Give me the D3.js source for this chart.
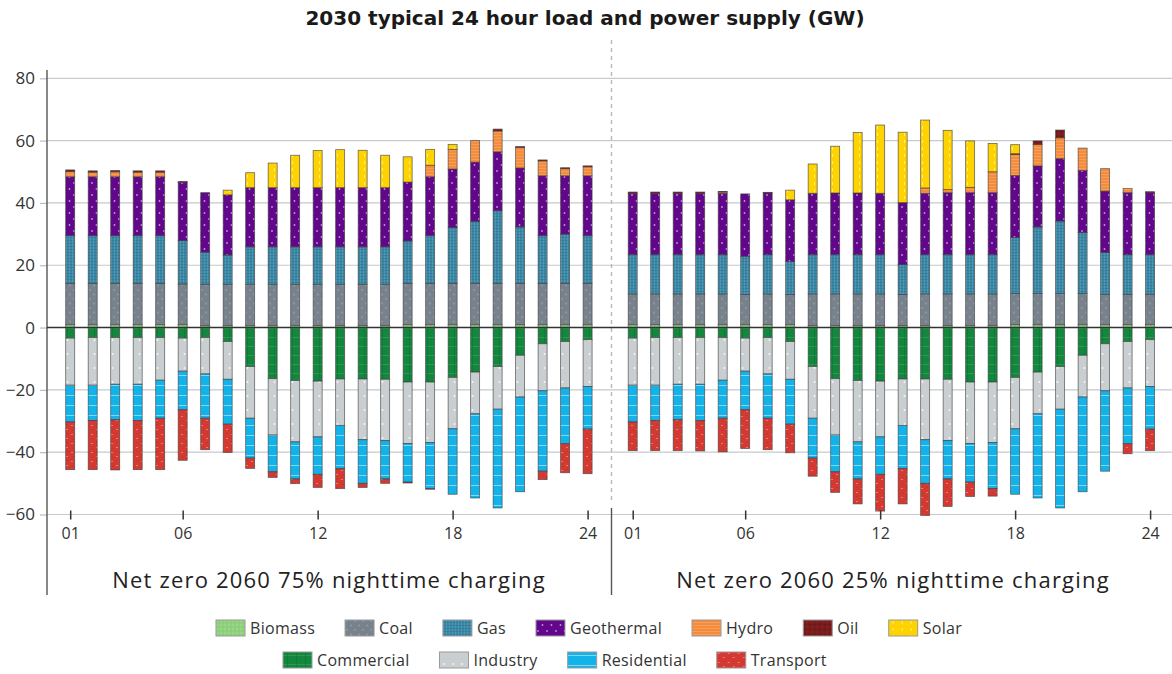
<!DOCTYPE html>
<html>
<head>
<meta charset="utf-8">
<script src="https://cdn.jsdelivr.net/npm/d3@7"></script>
<style>
  html, body { margin: 0; padding: 0; background: #fff; }
  svg { display: block; font-family: "Open Sans", "DejaVu Sans", sans-serif; }
</style>
</head>
<body>
<svg id="chart" width="1172" height="674"></svg>
<script>
// ---- Data (GW). Each series holds [75% nighttime charging, 25% nighttime charging] ----
const scenarios = ["Net zero 2060 75% nighttime charging", "Net zero 2060 25% nighttime charging"];
const hours = d3.range(1, 25);
const hourTicks = [1, 6, 12, 18, 24];
const hourTickLabels = ["01", "06", "12", "18", "24"];
const yTicks = [-60, -40, -20, 0, 20, 40, 60, 80];

// Supply (positive)
const biomass = [
  [0.9,0.9,0.9,0.9,0.9,0.9,0.6,0.6,0.6,0.6,0.6,0.6,0.6,0.6,0.6,0.9,0.9,0.9,0.9,0.9,0.9,0.9,0.9,0.9],
  [0.9,0.9,0.9,0.9,0.9,0.9,0.9,0.9,0.6,0.6,0.6,0.6,0.6,0.6,0.6,0.6,0.6,0.9,0.9,0.9,0.9,0.9,0.9,0.9]
];
const coal = [
  [13.3,13.3,13.3,13.3,13.3,13.1,13.3,13.3,13.3,13.3,13.3,13.3,13.3,13.3,13.3,13.3,13.3,13.3,13.3,13.3,13.3,13.3,13.3,13.3],
  [9.9,9.9,9.9,9.9,9.9,9.7,9.9,9.7,10.2,10.2,10.2,10.2,10.0,10.2,10.2,10.2,10.2,10.0,10.0,10.0,10.0,9.8,9.8,9.8]
];
const gas = [
  [15.3,15.3,15.3,15.3,15.3,13.9,10.3,9.4,12.0,12.0,12.0,12.0,12.0,12.0,12.0,13.6,15.3,17.9,19.9,23.3,18.1,15.3,15.8,15.3],
  [12.6,12.6,12.6,12.6,12.6,12.3,12.6,10.6,12.6,12.6,12.6,12.6,9.6,12.6,12.6,12.6,12.6,18.0,21.4,23.3,19.6,13.4,12.7,12.7]
];
const geothermal = [
  [18.9,18.9,18.9,18.9,18.9,18.7,19.1,19.3,19.0,19.0,19.0,19.0,19.0,19.0,19.0,18.9,18.9,18.8,19.0,18.9,18.9,19.2,18.7,19.2],
  [19.7,19.7,19.7,19.7,19.7,20.0,19.8,19.8,19.7,19.8,19.8,19.7,19.9,19.7,19.9,19.9,19.9,19.9,19.6,20.0,19.9,19.7,19.9,19.9]
];
const hydro = [
  [1.7,1.5,1.6,1.5,1.5,0,0,0,0,0,0,0,0,0,0,0,3.7,6.3,6.9,6.7,6.6,4.8,2.3,2.9],
  [0,0,0,0,0.4,0,0,0,0,0,0,0,0,1.7,1.0,1.7,6.7,6.8,6.9,6.7,7.2,7.2,1.3,0]
];
const oil = [
  [0.5,0.4,0.4,0.4,0.4,0.3,0,0,0,0,0,0,0,0,0,0,0,0,0,0.6,0.3,0.3,0.3,0.3],
  [0.4,0.4,0.4,0.4,0.2,0,0.2,0,0,0,0,0,0,0,0,0,0,0.2,1.1,2.5,0,0,0,0.3]
];
const solar = [
  [0,0,0,0,0,0,0,1.5,4.8,7.9,10.4,11.9,12.2,12.0,10.4,8.1,5.1,1.6,0,0,0,0,0,0],
  [0,0,0,0,0,0,0,3.1,9.4,15.0,19.4,21.9,22.6,21.8,19.0,14.9,9.1,2.9,0,0,0,0,0,0]
];

// Load (negative)
const commercial = [
  [-3.4,-3.2,-3.2,-3.2,-3.2,-3.4,-3.2,-4.5,-12.5,-16.4,-17.0,-17.2,-16.5,-16.5,-16.6,-17.5,-17.5,-16.0,-14.3,-12.5,-8.9,-5.2,-4.5,-3.9],
  [-3.4,-3.2,-3.2,-3.2,-3.2,-3.4,-3.2,-4.5,-12.5,-16.4,-17.0,-17.2,-16.5,-16.5,-16.6,-17.5,-17.5,-16.0,-14.3,-12.5,-8.9,-5.2,-4.5,-3.9]
];
const industry = [
  [-15.1,-15.3,-15.0,-15.0,-13.7,-10.6,-11.7,-12.1,-16.6,-18.1,-19.7,-17.9,-14.9,-19.5,-19.7,-19.7,-19.4,-16.5,-13.4,-13.7,-13.4,-15.1,-14.9,-15.0],
  [-15.1,-15.3,-15.0,-15.0,-13.7,-10.6,-11.7,-12.1,-16.6,-18.1,-19.7,-17.9,-14.9,-19.5,-19.7,-19.7,-19.4,-16.5,-13.4,-13.7,-13.4,-15.1,-14.9,-15.0]
];
const residential = [
  [-11.8,-11.3,-11.4,-11.6,-12.2,-12.4,-14.2,-14.4,-12.8,-11.8,-11.9,-12.0,-13.9,-14.0,-12.3,-12.4,-14.8,-21.0,-27.0,-31.7,-30.4,-25.8,-17.9,-13.7],
  [-11.8,-11.3,-11.4,-11.6,-12.2,-12.4,-14.2,-14.4,-12.8,-11.8,-11.9,-12.0,-13.9,-14.0,-12.3,-12.4,-14.8,-21.0,-27.0,-31.7,-30.4,-25.8,-17.9,-13.7]
];
const transport = [
  [-15.3,-15.8,-16.1,-15.8,-16.5,-16.2,-10.1,-9.1,-3.3,-1.8,-1.5,-4.2,-6.4,-1.3,-1.4,-0.3,-0.2,0,0,0,0,-2.7,-9.3,-14.3],
  [-9.2,-9.7,-9.9,-9.8,-10.8,-12.4,-10.1,-9.2,-5.8,-6.6,-8.0,-11.8,-11.3,-10.3,-8.8,-4.6,-2.4,0,0,0,0,0,-3.2,-6.9]
];

const seriesNames = ["Biomass","Coal","Gas","Geothermal","Hydro","Oil","Solar","Commercial","Industry","Residential","Transport"];
const seriesValues = [biomass, coal, gas, geothermal, hydro, oil, solar, commercial, industry, residential, transport];
const legendRows = [
  ["Biomass","Coal","Gas","Geothermal","Hydro","Oil","Solar"],
  ["Commercial","Industry","Residential","Transport"]
];

// ---- Layout ----
const svg = d3.select("#chart");
const W = 1172;
const axisX = 47;
const panelRanges = [[70.2, 587.6], [632.7, 1150.1]];
const barW = 9;
const y = d3.scaleLinear().domain([-60, 80]).range([514.5, 78.3]);

// ---- Fill textures ----
const defs = svg.append("defs");
function makePattern(id, w, h, base, draw) {
  const p = defs.append("pattern").attr("id", id)
    .attr("patternUnits", "userSpaceOnUse").attr("width", w).attr("height", h);
  p.append("rect").attr("width", w).attr("height", h).attr("fill", base);
  draw(p);
}
const dot = (p, cx, cy, r, c, o) => p.append("circle").attr("cx", cx).attr("cy", cy).attr("r", r).attr("fill", c).attr("opacity", o);
const box = (p, x0, y0, w, h, c, o) => p.append("rect").attr("x", x0).attr("y", y0).attr("width", w).attr("height", h).attr("fill", c).attr("opacity", o);

makePattern("p-Biomass", 4, 4, "#8fd07c", p => { dot(p, 1, 1, 0.7, "#b7e6a6", 0.8); dot(p, 3, 3, 0.6, "#74bd62", 0.6); });
makePattern("p-Coal", 8, 9, "#78828c", p => { dot(p, 2, 2, 0.9, "#98a1aa", 0.8); dot(p, 6, 6.5, 0.9, "#98a1aa", 0.8); });
makePattern("p-Gas", 3, 3, "#3a87a5", p => { box(p, 0, 0, 1, 3, "#64a8c3", 0.55); box(p, 0, 0, 3, 1, "#2d7390", 0.5); });
makePattern("p-Geothermal", 9, 12, "#62078b", p => { dot(p, 2, 3, 0.9, "#e6d2f0", 0.7); dot(p, 6.5, 9, 0.9, "#e6d2f0", 0.7); });
makePattern("p-Hydro", 4, 3, "#f58b3c", p => { box(p, 0, 0, 4, 1, "#f9aa6c", 0.6); });
makePattern("p-Oil", 5, 5, "#7b1c1c", p => { dot(p, 1.5, 1.5, 0.8, "#5a1010", 0.8); dot(p, 4, 4, 0.7, "#983030", 0.7); });
makePattern("p-Solar", 9, 7, "#ffd300", p => { box(p, 4, 0, 1, 3, "#fff3a6", 0.8); });
makePattern("p-Commercial", 9, 9, "#12873d", p => { box(p, 0, 4, 9, 1, "#3fa363", 0.6); box(p, 4, 0, 1, 9, "#0c6f31", 0.5); });
makePattern("p-Industry", 9, 14, "#c9ced1", p => { dot(p, 4.5, 4, 1.0, "#ffffff", 0.8); });
makePattern("p-Residential", 9, 10, "#13b3ea", p => { box(p, 0, 5, 9, 1, "#9fe0f7", 0.8); });
makePattern("p-Transport", 10, 9, "#d43a31", p => {
  box(p, 1, 2, 2, 1, "#ef8a82", 0.8); box(p, 6, 6, 2, 1, "#ef8a82", 0.8);
  dot(p, 7, 1.5, 0.6, "#a52a22", 0.8); dot(p, 3, 7, 0.6, "#a52a22", 0.8);
});

// ---- Title ----
svg.append("text")
  .attr("x", 585).attr("y", 25)
  .attr("text-anchor", "middle")
  .attr("font-family", "\"DejaVu Sans\", sans-serif")
  .attr("font-size", 20).attr("font-weight", 700).attr("fill", "#1a1a1a")
  .text("2030 typical 24 hour load and power supply (GW)");

// ---- Grid and y axis ----
const grid = svg.append("g");
grid.selectAll("line.grid").data(yTicks.filter(d => d !== 0)).join("line")
  .attr("class", "grid")
  .attr("x1", axisX).attr("x2", W)
  .attr("y1", d => y(d)).attr("y2", d => y(d))
  .attr("stroke", "#c6cacd").attr("stroke-width", 1.2);

const yAxis = d3.axisLeft(y).tickValues(yTicks).tickSize(7).tickPadding(5).tickFormat(d3.format("d"));
const yAxisG = svg.append("g").attr("transform", `translate(${axisX},0)`).call(yAxis);
yAxisG.select(".domain").remove();
yAxisG.selectAll(".tick line").attr("stroke", "#b9bdc0").attr("stroke-width", 1.2);
yAxisG.selectAll(".tick text").attr("font-size", 17).attr("fill", "#333")
  .attr("font-family", "\"Open Sans\", sans-serif");

svg.append("line").attr("x1", axisX).attr("x2", axisX).attr("y1", 70).attr("y2", 595)
  .attr("stroke", "#555").attr("stroke-width", 1.4);

// ---- Panel divider ----
svg.append("line").attr("x1", 611.5).attr("x2", 611.5).attr("y1", 40).attr("y2", 500)
  .attr("stroke", "#b5b9bc").attr("stroke-width", 1.4).attr("stroke-dasharray", "4,4");
svg.append("line").attr("x1", 611.5).attr("x2", 611.5).attr("y1", 508).attr("y2", 595)
  .attr("stroke", "#555").attr("stroke-width", 1.4);

// ---- Bars ----
const stack = d3.stack()
  .keys(d3.range(seriesNames.length))
  .value((row, k) => row[k])
  .offset(d3.stackOffsetDiverging);

scenarios.forEach((name, si) => {
  const x = d3.scaleLinear().domain([1, 24]).range(panelRanges[si]);
  const rows = hours.map((h, hi) => seriesValues.map(s => s[si][hi]));
  const stacked = stack(rows);
  const g = svg.append("g");

  stacked.forEach((layer, k) => {
    g.append("g").selectAll("rect")
      .data(layer.map((seg, hi) => ({ seg, hi })).filter(d => Math.abs(d.seg[1] - d.seg[0]) > 0))
      .join("rect")
      .attr("x", d => x(hours[d.hi]) - barW / 2)
      .attr("width", barW)
      .attr("y", d => y(Math.max(d.seg[0], d.seg[1])))
      .attr("height", d => Math.abs(y(d.seg[0]) - y(d.seg[1])))
      .attr("fill", `url(#p-${seriesNames[k]})`)
      .attr("stroke", "#3d3d3d").attr("stroke-width", 0.8).attr("stroke-opacity", 0.75);
  });

  // Hour ticks on the bottom gridline
  const xAxis = d3.axisBottom(x).tickValues(hourTicks)
    .tickFormat((d, i) => hourTickLabels[i]).tickSize(9).tickPadding(8);
  const xg = svg.append("g").attr("transform", `translate(0,${y(-60) - 4})`).call(xAxis);
  xg.select(".domain").remove();
  xg.selectAll(".tick line").attr("stroke", "#333").attr("stroke-width", 1.5);
  xg.selectAll(".tick text").attr("font-size", 16).attr("fill", "#333")
    .attr("font-family", "\"Open Sans\", sans-serif");

  // Scenario label
  svg.append("text")
    .attr("x", si === 0 ? 329 : 893).attr("y", 588)
    .attr("text-anchor", "middle")
    .attr("font-size", 22).attr("letter-spacing", 1.2).attr("fill", "#222")
    .text(name);
});

// Zero line drawn over the bars
svg.append("line").attr("x1", axisX).attr("x2", W).attr("y1", y(0)).attr("y2", y(0))
  .attr("stroke", "#333").attr("stroke-width", 1.4);

// ---- Legend ----
const legendY = [628, 660];
const legendStart = [216, 283];
legendRows.forEach((row, ri) => {
  const lg = svg.append("g").attr("transform", `translate(${legendStart[ri]},${legendY[ri]})`);
  let cursor = 0;
  row.forEach(nm => {
    const item = lg.append("g").attr("transform", `translate(${cursor},0)`);
    item.append("rect").attr("x", 0).attr("y", -8).attr("width", 29).attr("height", 16)
      .attr("fill", `url(#p-${nm})`).attr("stroke", "#9a9a9a").attr("stroke-width", 1);
    const t = item.append("text").attr("x", 34).attr("y", 5.5)
      .attr("font-size", 16).attr("letter-spacing", 0.3).attr("fill", "#333").text(nm);
    cursor += 34 + t.node().getComputedTextLength() + 30;
  });
});
</script>
</body>
</html>
